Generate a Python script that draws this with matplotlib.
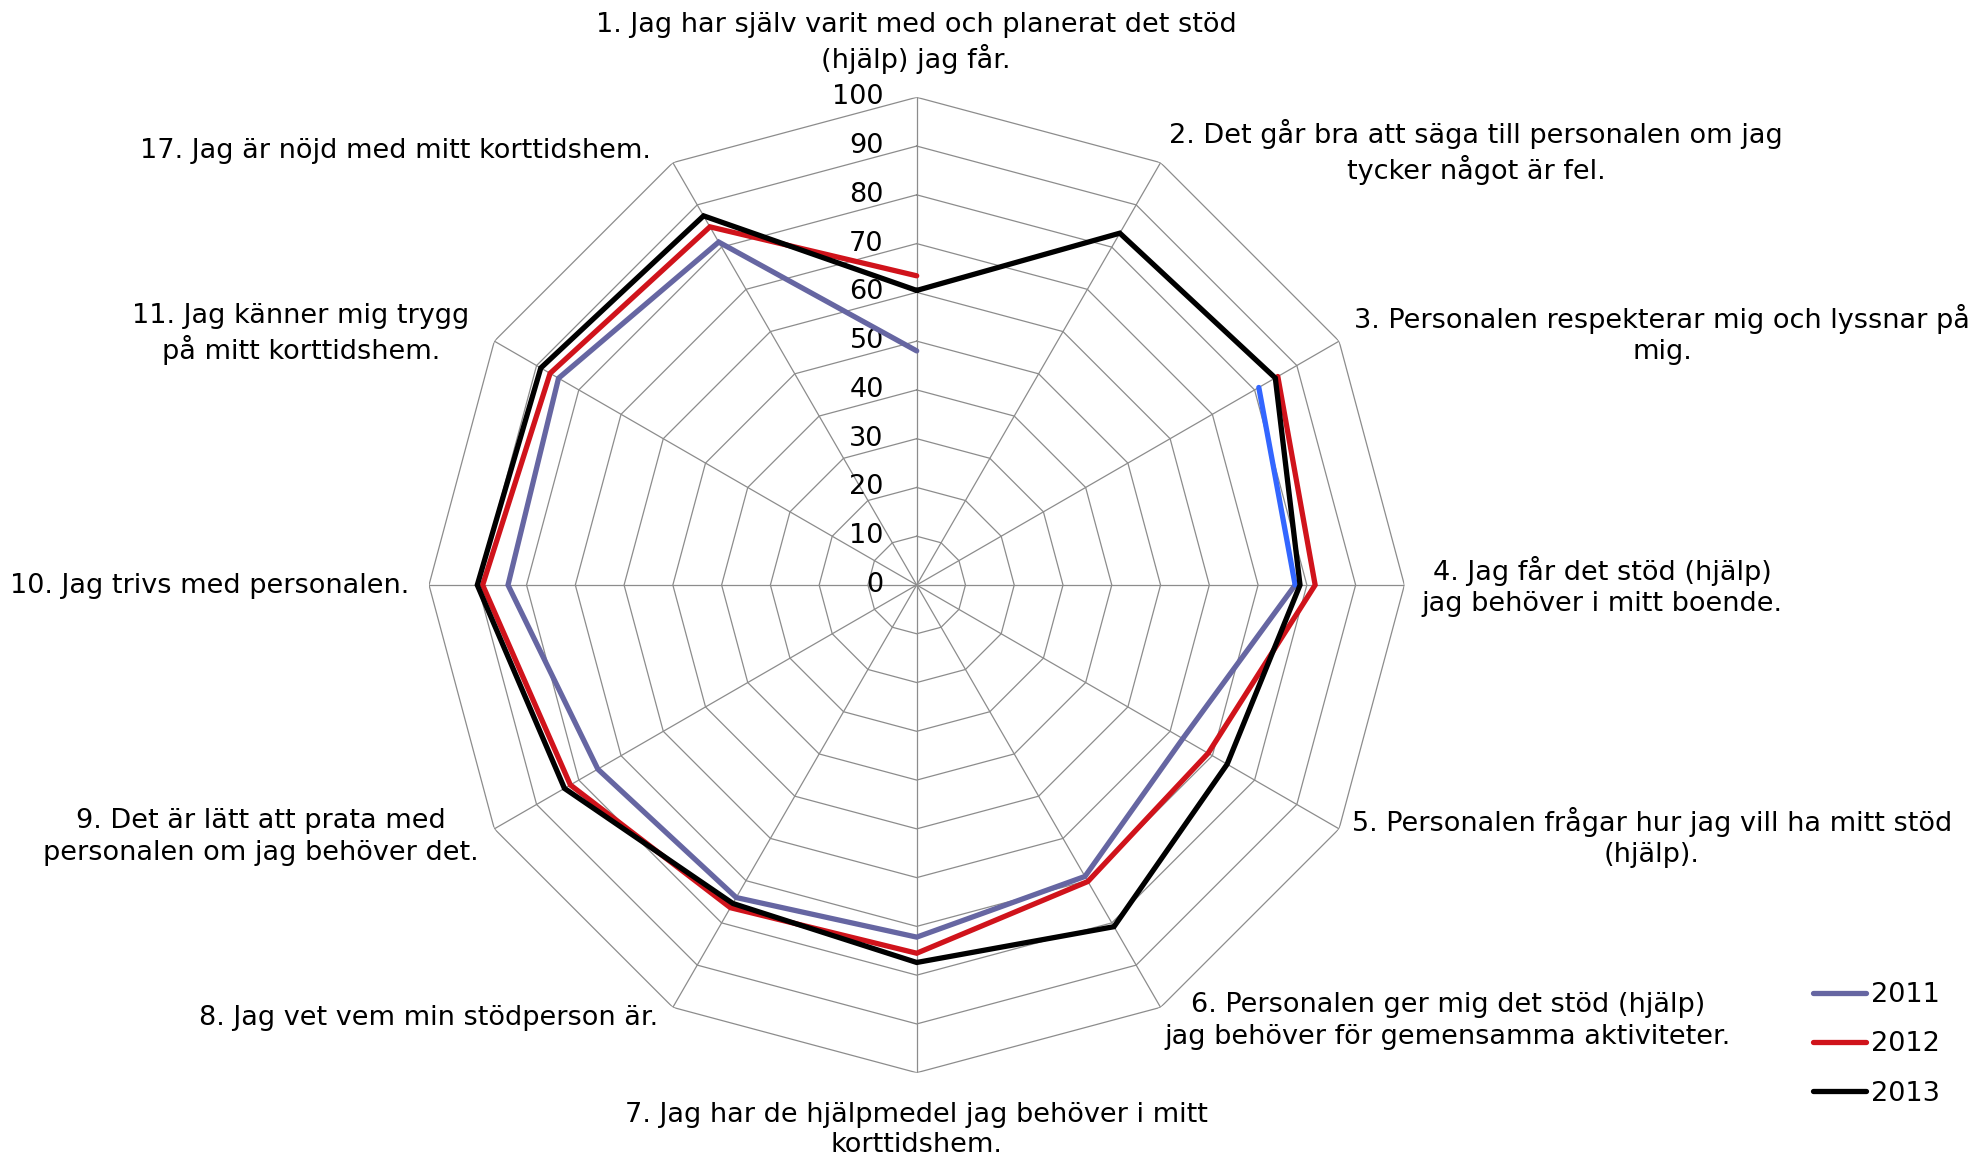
import numpy as np
import matplotlib
matplotlib.use("Agg")
import matplotlib.pyplot as plt
import matplotlib.transforms as mtransforms

# ---------------- data ----------------
categories = [
    "1. Jag har själv varit med och planerat det stöd\n(hjälp) jag får.",
    "2. Det går bra att säga till personalen om jag\ntycker något är fel.",
    "3. Personalen respekterar mig och lyssnar på\nmig.",
    "4. Jag får det stöd (hjälp)\njag behöver i mitt boende.",
    "5. Personalen frågar hur jag vill ha mitt stöd\n(hjälp).",
    "6. Personalen ger mig det stöd (hjälp)\njag behöver för gemensamma aktiviteter.",
    "7. Jag har de hjälpmedel jag behöver i mitt\nkorttidshem.",
    "8. Jag vet vem min stödperson är.",
    "9. Det är lätt att prata med\npersonalen om jag behöver det.",
    "10. Jag trivs med personalen.",
    "11. Jag känner mig trygg\npå mitt korttidshem.",
    "17. Jag är nöjd med mitt korttidshem.",
]
nan = np.nan
v2011 = [48, nan, 81, 77.6, 63, 69, 72.2, 74, 75.5, 83.8, 84.8, 81.2]
v2012 = [63.4, nan, 85.5, 81.7, 69, 70.2, 75.5, 76.4, 82, 89, 86.8, 84.8]
v2013 = [60.4, 83.3, 84.9, 78.6, 73.5, 80.9, 77.4, 75.4, 83.4, 90.1, 89, 87.4]
series_names = ["2011", "2012", "2013"]
r_ticks = [0, 10, 20, 30, 40, 50, 60, 70, 80, 90, 100]

# ---------------- figure ----------------
W, H = 1971, 1156
FS = 19.5
fig = plt.figure(figsize=(W / 100, H / 100), dpi=100)
cx, cy, R = 916.7, 585.0, 487.7  # pixel centre (from top) and radius
ax = fig.add_axes([(cx - R) / W, (H - cy - R) / H, 2 * R / W, 2 * R / H],
                  projection="polar")
ax.set_theta_zero_location("N")
ax.set_theta_direction(-1)
ax.set_ylim(0, 100)
ax.grid(False)
ax.spines["polar"].set_visible(False)
ax.set_xticks([])
ax.set_yticks([])
ax.patch.set_alpha(0)

n = len(categories)
theta = np.linspace(0, 2 * np.pi, n + 1)  # closed

gridc = "#8c8c8c"
for rt in r_ticks[1:]:
    ax.plot(theta, [rt] * (n + 1), color=gridc, lw=0.9, zorder=1)
for t in theta[:-1]:
    ax.plot([t, t], [0, 100], color=gridc, lw=0.9, zorder=1)

# radial tick labels
off = mtransforms.offset_copy(ax.transData, fig=fig, x=-33.0, y=0, units="dots")
for rt in r_ticks:
    ax.text(0, rt, str(rt), transform=off, ha="right", va="center",
            fontsize=FS, color="black")

def closed(v):
    v = list(v)
    return np.array(v + [v[0]], dtype=float)

c2011, c2012, c2013 = "#6666a2", "#d0131b", "#000000"
lw = 3.8
a2011 = closed(v2011)
main2011 = a2011.copy()
main2011[2] = nan
seg2011 = np.full_like(a2011, nan)
seg2011[2:4] = a2011[2:4]
ax.plot(theta, main2011, color=c2011, lw=lw, solid_capstyle="round",
        solid_joinstyle="miter", zorder=3, label=series_names[0])
ax.plot(theta, seg2011, color="#3366ff", lw=lw, solid_capstyle="round",
        solid_joinstyle="miter", zorder=3)
ax.plot(theta, closed(v2012), color=c2012, lw=lw, solid_capstyle="round",
        solid_joinstyle="miter", zorder=4, label=series_names[1])
ax.plot(theta, closed(v2013), color=c2013, lw=lw, solid_capstyle="round",
        solid_joinstyle="miter", zorder=5, label=series_names[2])

# category labels (pixel centres, from top)
label_pos = [(916, 43), (1476, 152), (1662, 334), (1602, 586), (1652, 837),
             (1448, 1021), (916, 1130), (429, 1018), (261, 837), (210, 586),
             (301, 334), (395, 151)]
for lab, (px, py) in zip(categories, label_pos):
    fig.text(px / W, 1 - py / H, lab, ha="center", va="center",
             fontsize=FS, linespacing=1.25, multialignment="center")

leg = fig.legend(loc="upper left", bbox_to_anchor=(1813 / W, 1 - 982 / H),
                 frameon=False, fontsize=FS, handlelength=1.95,
                 handletextpad=0.2, labelspacing=0.86, borderaxespad=0,
                 borderpad=0)
for h in leg.get_lines():
    h.set_linewidth(lw)
    h.set_solid_capstyle("round")

fig.savefig("out.png", dpi=100, facecolor="white")
